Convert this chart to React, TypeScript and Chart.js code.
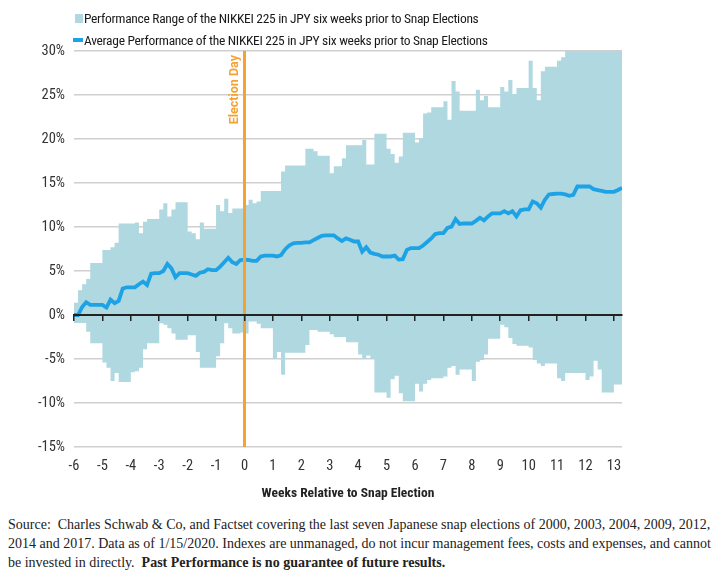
import React, { useEffect, useRef } from "react";
import { Chart, registerables } from "chart.js";

Chart.register(...registerables);

// x axis: weeks relative to the snap election (calendar days, 7 per week)
const startWeek = -6;
const daysPerWeek = 7;
const electionWeek = 0;
const weekTicks = [-6, -5, -4, -3, -2, -1, 0, 1, 2, 3, 4, 5, 6, 7, 8, 9, 10, 11, 12, 13];
const yTicks = [-15, -10, -5, 0, 5, 10, 15, 20, 25, 30];

// Average performance (%) per calendar day
const avgPerf = [
  0, 0, 0.9, 1.45, 1.15, 1.15, 1.15,
  1.15, 0.85, 1.75, 1.35, 1.6, 3.0, 3.15,
  3.15, 3.15, 3.5, 3.8, 3.4, 4.7, 4.75,
  4.75, 5.0, 5.8, 5.3, 4.3, 4.75, 4.75,
  4.75, 4.6, 4.45, 4.8, 4.9, 5.2, 5.1,
  5.1, 5.5, 6.0, 6.5, 6.0, 5.8, 6.25,
  6.3, 6.25, 6.15, 6.15, 6.65, 6.75, 6.75,
  6.75, 6.65, 6.8, 7.45, 7.9, 8.15, 8.2,
  8.2, 8.25, 8.25, 8.5, 8.75, 9.0, 9.05,
  9.05, 9.05, 8.7, 8.4, 8.7, 8.55, 8.35,
  8.35, 7.2, 7.7, 7.1, 6.95, 6.85, 6.65,
  6.65, 6.65, 6.75, 6.3, 6.35, 7.4, 7.6,
  7.6, 7.6, 7.9, 8.3, 8.7, 9.2, 9.3,
  9.3, 9.9, 10.05, 10.9, 10.35, 10.4, 10.4,
  10.4, 10.7, 11.05, 10.75, 11.2, 11.55, 11.55,
  11.55, 11.8, 11.55, 11.8, 11.2, 11.9, 12.0,
  12.0, 12.9, 12.7, 12.2, 13.1, 13.7, 13.75,
  13.8, 13.8, 13.7, 13.55, 13.65, 14.6, 14.6,
  14.6, 14.6, 14.3, 14.2, 14.1, 14.0, 14.0,
  14.0, 14.2, 14.45,
];

// Upper edge of the performance range (%)
const rangeHigh = [
  0.5, 1.4, 2.8, 3.5, 4.1, 5.9, 5.9,
  5.9, 7.4, 7.4, 7.7, 8.2, 10.4, 10.4,
  10.4, 10.4, 10.5, 9.3, 10.6, 10.9, 10.9,
  10.9, 12.0, 12.7, 11.2, 12.0, 12.8, 12.8,
  12.8, 9.5, 9.3, 8.6, 10.5, 9.8, 9.8,
  9.8, 12.5, 11.8, 13.2, 11.6, 12.1, 12.1,
  12.1, 12.5, 13.1, 12.7, 12.9, 14.1, 14.1,
  14.1, 14.1, 14.1, 16.3, 17.0, 17.0, 17.0,
  17.0, 17.0, 18.9, 18.9, 18.6, 18.1, 18.1,
  18.1, 16.1, 16.9, 16.9, 17.8, 19.3, 19.3,
  19.3, 19.3, 19.9, 17.1, 17.1, 20.6, 20.6,
  20.6, 18.9, 18.3, 17.3, 18.0, 20.7, 20.7,
  20.7, 19.6, 20.1, 22.9, 23.0, 23.6, 23.6,
  23.6, 24.3, 22.2, 26.6, 25.4, 23.2, 23.2,
  23.2, 23.2, 25.6, 24.4, 24.9, 23.6, 23.6,
  23.6, 25.9, 25.4, 26.7, 25.1, 25.8, 25.8,
  25.8, 28.9, 25.8, 24.4, 27.7, 28.2, 28.2,
  28.2, 28.9, 29.3, 30, 30, 30, 30,
  30, 30, 30, 30, 30, 30, 30,
  30, 30, 30,
];

// Lower edge of the performance range (%)
const rangeLow = [
  -0.5, -0.9, -0.9, -0.9, -1.9, -3.2, -3.2,
  -3.2, -5.4, -6.0, -7.5, -6.6, -7.6, -7.6,
  -7.6, -6.5, -6.4, -6.0, -3.9, -3.2, -3.2,
  -3.2, -0.95, -1.1, -1.5, -2.1, -2.8, -2.8,
  -2.8, -2.3, -2.3, -4.2, -6.0, -6.0, -6.0,
  -6.0, -4.7, -3.2, -0.95, -1.5, -2.1, -2.1,
  -2.0, -2.1, -0.75, -0.75, -1.0, -1.5, -1.5,
  -1.5, -5.0, -4.2, -6.8, -4.3, -4.3, -4.3,
  -4.3, -4.3, -3.4, -1.7, -1.7, -1.9, -1.9,
  -1.9, -2.2, -2.5, -2.5, -2.5, -3.1, -3.1,
  -3.1, -4.5, -5.0, -4.6, -5.0, -8.8, -8.8,
  -8.8, -9.4, -7.3, -6.9, -8.9, -9.8, -9.8,
  -9.8, -7.8, -8.7, -7.8, -7.4, -7.2, -7.2,
  -7.2, -7.0, -6.0, -5.8, -6.8, -6.2, -6.2,
  -6.2, -7.5, -5.3, -5.1, -4.5, -2.7, -2.7,
  -2.7, -1.1, -1.4, -2.6, -3.3, -3.5, -3.5,
  -3.5, -3.7, -5.1, -5.5, -5.8, -5.5, -5.5,
  -5.5, -7.2, -7.5, -6.6, -6.6, -6.6, -6.6,
  -6.6, -7.4, -7.0, -5.2, -6.2, -8.8, -8.8,
  -8.8, -7.9, -7.9,
];

const rangeLabel = "Performance Range of the NIKKEI 225 in JPY six weeks prior to Snap Elections";
const avgLabel = "Average Performance of the NIKKEI 225 in JPY six weeks prior to Snap Elections";
const xTitle = "Weeks Relative to Snap Election";
const electionLabel = "Election Day";

const RANGE_COLOR = "#afd8e0";
const LINE_COLOR = "#1ea2e6";
const ORANGE = "#f5a230";
const FONT = "'Roboto Condensed', 'Liberation Sans', Arial, sans-serif";
const LABEL_FONT = "Roboto, 'Liberation Sans', Arial, sans-serif";

const toPoints = (vals: number[]) =>
  vals.map((v, i) => ({ x: startWeek + i / daysPerWeek, y: v }));

const lastWeek = startWeek + (avgPerf.length - 1) / daysPerWeek;

const electionLabelPlugin = {
  id: "electionLabel",
  afterDatasetsDraw(chart: any) {
    const { ctx, chartArea, scales } = chart;
    const x = scales.x.getPixelForValue(electionWeek);
    ctx.save();
    ctx.translate(x - 10, chartArea.top + 4);
    ctx.rotate(-Math.PI / 2);
    ctx.font = "bold 12.5px " + LABEL_FONT;
    ctx.fillStyle = ORANGE;
    ctx.textAlign = "right";
    ctx.textBaseline = "middle";
    ctx.fillText(electionLabel, 0, 0);
    ctx.restore();
  },
};

export default function App() {
  const canvasRef = useRef<HTMLCanvasElement | null>(null);

  useEffect(() => {
    if (!canvasRef.current) return;
    const chart = new Chart(canvasRef.current, {
      type: "line",
      data: {
        datasets: [
          {
            label: "election",
            data: [
              { x: electionWeek, y: yTicks[0] },
              { x: electionWeek, y: yTicks[yTicks.length - 1] },
            ],
            borderColor: ORANGE,
            borderWidth: 3,
            pointRadius: 0,
            fill: false,
            order: -1,
          },
          {
            label: avgLabel,
            data: toPoints(avgPerf),
            borderColor: LINE_COLOR,
            borderWidth: 3.8,
            pointRadius: 0,
            fill: false,
            tension: 0,
            order: 0,
          },
          {
            label: rangeLabel,
            data: toPoints(rangeHigh),
            stepped: "after",
            borderWidth: 0,
            borderColor: "rgba(0,0,0,0)",
            backgroundColor: RANGE_COLOR,
            pointRadius: 0,
            fill: { target: 3 },
            order: 2,
          },
          {
            label: "low",
            data: toPoints(rangeLow),
            stepped: "after",
            borderWidth: 0,
            borderColor: "rgba(0,0,0,0)",
            backgroundColor: RANGE_COLOR,
            pointRadius: 0,
            fill: false,
            order: 3,
          },
        ],
      },
      options: {
        animation: false,
        responsive: true,
        maintainAspectRatio: false,
        layout: { padding: { left: 8, right: 99, top: 51, bottom: 0 } },
        plugins: {
          legend: { display: false },
          tooltip: { enabled: false },
        },
        scales: {
          x: {
            type: "linear",
            min: startWeek,
            max: lastWeek,
            grid: { display: false, drawTicks: false },
            border: { display: false },
            afterBuildTicks: (scale: any) => {
              scale.ticks = weekTicks.map((v) => ({ value: v }));
            },
            afterFit: (scale: any) => {
              scale.height = 58;
            },
            ticks: {
              padding: 11,
              color: "#333",
              font: { family: FONT, size: 14.5 },
              maxRotation: 0,
              autoSkip: false,
              callback: (v: any) => String(v),
            },
            title: {
              display: true,
              text: xTitle,
              color: "#222",
              font: { family: FONT, size: 13.5, weight: "bold" },
              padding: { top: 0, bottom: 3 },
            },
          },
          x2: {
            type: "linear",
            min: startWeek,
            max: lastWeek,
            position: { y: 0 },
            afterBuildTicks: (scale: any) => {
              scale.ticks = weekTicks.map((v) => ({ value: v }));
            },
            grid: {
              drawOnChartArea: false,
              drawTicks: true,
              tickLength: 5,
              color: "#222",
              lineWidth: 1.5,
              z: 1,
            },
            border: { display: true, color: "#222", width: 2, z: 1 },
            ticks: { display: false },
          },
          y: {
            type: "linear",
            min: yTicks[0],
            max: yTicks[yTicks.length - 1],
            afterBuildTicks: (scale: any) => {
              scale.ticks = yTicks.map((v) => ({ value: v }));
            },
            afterFit: (scale: any) => {
              scale.width = 66;
            },
            grid: { color: "#cfcfcf", lineWidth: 1.5, drawTicks: false },
            border: { display: false },
            ticks: {
              padding: 9,
              color: "#333",
              font: { family: FONT, size: 14.5 },
              callback: (v: any) => v + "%",
            },
          },
        },
      },
      plugins: [electionLabelPlugin],
    } as any);
    return () => chart.destroy();
  }, []);

  const legendText: React.CSSProperties = {
    position: "absolute",
    left: 84,
    fontFamily: FONT,
    fontSize: 13.5,
    letterSpacing: "-0.3px",
    color: "#1a1a1a",
    whiteSpace: "nowrap",
    lineHeight: "18px",
  };

  return (
    <div style={{ position: "absolute", left: 0, top: 0, width: 721, height: 582, background: "#fff" }}>
      <div style={{ position: "absolute", left: 0, top: 0, width: 721, height: 505 }}>
        <canvas ref={canvasRef} />
      </div>
      <div style={{ position: "absolute", left: 75, top: 14, width: 8, height: 9, background: RANGE_COLOR }} />
      <div style={{ ...legendText, top: 9 }}>{rangeLabel}</div>
      <div style={{ position: "absolute", left: 73, top: 38, width: 10, height: 4, background: LINE_COLOR }} />
      <div style={{ ...legendText, top: 31 }}>{avgLabel}</div>
      <div
        style={{
          position: "absolute",
          left: 8,
          top: 515,
          fontFamily: "'Liberation Serif', 'DejaVu Serif', serif",
          fontSize: 14,
          lineHeight: "19px",
          color: "#222",
        }}
      >
        <div style={{ whiteSpace: "nowrap" }}>
          Source:&nbsp; Charles Schwab &amp; Co, and Factset covering the last seven Japanese snap elections of 2000, 2003, 2004, 2009, 2012,
        </div>
        <div style={{ whiteSpace: "nowrap" }}>
          2014 and 2017. Data as of 1/15/2020. Indexes are unmanaged, do not incur management fees, costs and expenses, and cannot
        </div>
        <div style={{ whiteSpace: "nowrap" }}>
          be invested in directly.&nbsp; <b>Past Performance is no guarantee of future results.</b>
        </div>
      </div>
    </div>
  );
}
